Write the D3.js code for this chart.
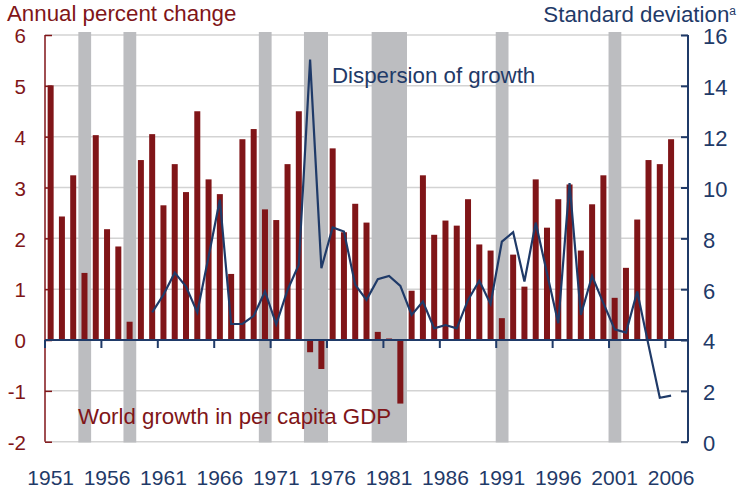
<!DOCTYPE html>
<html>
<head>
<meta charset="utf-8">
<script src="https://cdn.jsdelivr.net/npm/d3@7"></script>
<style>
  body { margin: 0; background: #fff; }
  text { font-family: "Liberation Sans", Arial, Helvetica, sans-serif; }
</style>
</head>
<body>
<svg width="739" height="488"></svg>
<script>
  const svg = d3.select('svg');

  // data
  const years = d3.range(1951, 2008);
  const growth = [5.01, 2.43, 3.24, 1.32, 4.03, 2.18, 1.84, 0.36, 3.54, 4.05,
    2.65, 3.46, 2.91, 4.50, 3.16, 2.87, 1.30, 3.95, 4.15, 2.57,
    2.36, 3.46, 4.50, -0.24, -0.57, 3.77, 2.12, 2.68, 2.31, 0.16,
    0.03, -1.25, 0.97, 3.24, 2.07, 2.35, 2.25, 2.77, 1.88, 1.76,
    0.43, 1.68, 1.05, 3.16, 2.21, 2.77, 3.06, 1.76, 2.67, 3.24,
    0.83, 1.42, 2.37, 3.54, 3.46, 3.95];   // 1951-2006
  const dispYears = d3.range(1960, 2007);
  const dispersion = [5.09, 5.78, 6.65, 6.10, 5.09, 7.28, 9.52, 4.63, 4.63, 4.95,
    5.91, 4.62, 5.97, 6.96, 15.03, 6.83, 8.43, 8.27, 6.17, 5.58,
    6.39, 6.52, 6.13, 4.99, 5.51, 4.46, 4.59, 4.46, 5.58, 6.33,
    5.42, 7.87, 8.24, 6.30, 8.62, 6.63, 4.66, 10.17, 4.99, 6.52,
    5.45, 4.42, 4.29, 5.91, 3.80, 1.73, 1.81];
  // recession shading [first year, last year]
  const recessions = [[1954, 1954], [1958, 1958], [1970, 1970], [1974, 1975],
    [1980, 1982], [1991, 1991], [2001, 2001]];
  const leftTicks = [-2, -1, 0, 1, 2, 3, 4, 5, 6];
  const rightTicks = [0, 2, 4, 6, 8, 10, 12, 14, 16];
  const labelYears = [1951, 1956, 1961, 1966, 1971, 1976, 1981, 1986, 1991, 1996, 2001, 2006];

  const red = '#801518';
  const navy = '#1f3a68';
  const gray = '#bcbdc0';

  const plotL = 45, plotR = 688, plotT = 35, plotB = 441.7;

  const x = d3.scaleBand().domain(years).range([plotL, plotR]);
  const yL = d3.scaleLinear().domain([-2, 6]).range([plotB, plotT]);
  const yR = d3.scaleLinear().domain([0, 16]).range([plotB, plotT]);

  // gridlines
  svg.append('g').selectAll('line')
    .data(leftTicks)
    .enter().append('line')
      .attr('x1', plotL).attr('x2', plotR)
      .attr('y1', d => yL(d)).attr('y2', d => yL(d))
      .attr('stroke', '#d3d3d3')
      .attr('stroke-width', 1.5);

  // recession bands
  svg.append('g').selectAll('rect')
    .data(recessions)
    .enter().append('rect')
      .attr('x', d => x(d[0]) - 0.5)
      .attr('width', d => x(d[1]) + x.bandwidth() - x(d[0]) + 1.5)
      .attr('y', 32)
      .attr('height', 442.5 - 32)
      .attr('fill', gray);

  // bars
  const barW = 6;
  svg.append('g').selectAll('rect')
    .data(growth)
    .enter().append('rect')
      .attr('x', (d, i) => x(years[i]) + x.bandwidth() / 2 - barW / 2)
      .attr('width', barW)
      .attr('y', d => yL(Math.max(0, d)))
      .attr('height', d => Math.abs(yL(d) - yL(0)))
      .attr('fill', red);

  // left axis
  const gL = svg.append('g')
    .attr('transform', `translate(${plotL},0)`)
    .call(d3.axisLeft(yL).tickValues(leftTicks).tickSize(-7).tickPadding(19).tickFormat(d => String(d)));
  gL.select('.domain').attr('stroke', red).attr('stroke-width', 1.5).attr('d', `M0,${plotT}V${plotB}`);
  gL.selectAll('.tick line').attr('stroke', red).attr('stroke-width', 1.5);
  gL.selectAll('.tick text').attr('fill', red).style('font-size', '20.5px').attr('dy', '0.38em');

  // right axis
  const gR = svg.append('g')
    .attr('transform', `translate(${plotR},0)`)
    .call(d3.axisRight(yR).tickValues(rightTicks).tickSize(-7).tickPadding(15));
  gR.select('.domain').attr('stroke', navy).attr('stroke-width', 2).attr('d', `M0,${plotT}V${plotB}`);
  gR.selectAll('.tick line').attr('stroke', navy).attr('stroke-width', 2);
  gR.selectAll('.tick text').attr('fill', navy).style('font-size', '22px').attr('dy', '0.4em');

  // zero line with ticks every five years
  svg.append('line')
    .attr('x1', plotL).attr('x2', plotR)
    .attr('y1', yL(0)).attr('y2', yL(0))
    .attr('stroke', navy).attr('stroke-width', 2);
  svg.append('g').selectAll('line')
    .data(labelYears)
    .enter().append('line')
      .attr('x1', d => x(d)).attr('x2', d => x(d))
      .attr('y1', yL(0)).attr('y2', yL(0) + 8)
      .attr('stroke', navy).attr('stroke-width', 2);

  // year labels
  const gX = svg.append('g')
    .attr('transform', `translate(0,${plotB})`)
    .call(d3.axisBottom(x).tickValues(labelYears).tickSize(0).tickPadding(28));
  gX.select('.domain').remove();
  gX.selectAll('.tick text').attr('fill', navy).style('font-size', '21px');

  // dispersion line
  const line = d3.line()
    .x((d, i) => x(dispYears[i]) + x.bandwidth() / 2)
    .y(d => yR(d));
  svg.append('path')
    .datum(dispersion)
    .attr('d', line)
    .attr('fill', 'none')
    .attr('stroke', navy)
    .attr('stroke-width', 2.2)
    .attr('stroke-linejoin', 'miter');

  // titles and labels
  const labelSize = '22.3px';
  svg.append('text')
    .attr('x', 7).attr('y', 21)
    .attr('fill', red)
    .style('font-size', labelSize)
    .text('Annual percent change');

  const sd = svg.append('text')
    .attr('x', 736).attr('y', 21.5)
    .attr('text-anchor', 'end')
    .attr('fill', navy)
    .style('font-size', labelSize);
  sd.append('tspan').text('Standard deviation');
  sd.append('tspan').attr('dy', -7).style('font-size', '12px').text('a');

  svg.append('text')
    .attr('x', 332).attr('y', 83)
    .attr('fill', navy)
    .style('font-size', labelSize)
    .text('Dispersion of growth');

  svg.append('text')
    .attr('x', 78).attr('y', 424)
    .attr('fill', red)
    .style('font-size', labelSize)
    .text('World growth in per capita GDP');
</script>
</body>
</html>
